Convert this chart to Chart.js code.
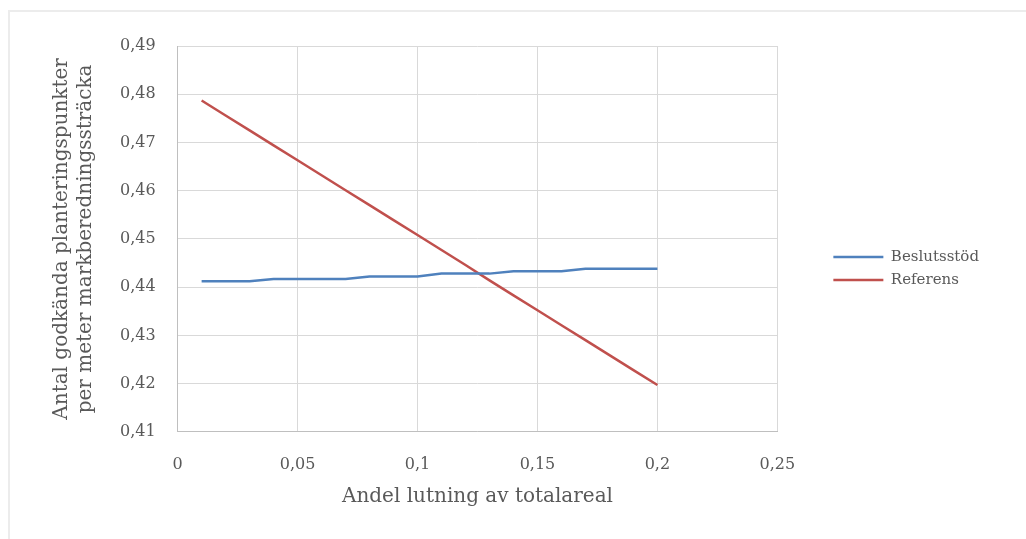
<!DOCTYPE html>
<html>
<head>
<meta charset="utf-8">
<script src="https://cdn.jsdelivr.net/npm/chart.js@4"></script>
<style>
html, body { margin: 0; padding: 0; background: #fff; }
#frame { position: absolute; left: 8px; top: 10px; width: 1030px; height: 540px; border-left: 2px solid #ececec; border-top: 2px solid #ececec; }
#wrap { position: absolute; left: 0; top: 0; width: 1026px; height: 539px; }
</style>
</head>
<body>
<div id="frame"></div>
<div id="wrap"><canvas id="lineChart"></canvas></div>
<script>
// data
const andel = [0.01, 0.02, 0.03, 0.04, 0.05, 0.06, 0.07, 0.08, 0.09, 0.10,
               0.11, 0.12, 0.13, 0.14, 0.15, 0.16, 0.17, 0.18, 0.19, 0.20];
const beslutsstod = [0.4412, 0.4412, 0.4412, 0.4417, 0.4417, 0.4417, 0.4417, 0.4422, 0.4422, 0.4422,
                     0.4428, 0.4428, 0.4428, 0.4433, 0.4433, 0.4433, 0.4438, 0.4438, 0.4438, 0.4438];
const referens = [0.4787, 0.4756, 0.4725, 0.4694, 0.4663, 0.4632, 0.4601, 0.4570, 0.4539, 0.4508,
                  0.4477, 0.4446, 0.4414, 0.4383, 0.4352, 0.4321, 0.4290, 0.4259, 0.4228, 0.4197];
const xTicks = [0, 0.05, 0.1, 0.15, 0.2, 0.25];
const yTicks = [0.41, 0.42, 0.43, 0.44, 0.45, 0.46, 0.47, 0.48, 0.49];

const serif = "'DejaVu Serif', 'Liberation Serif', serif";
const grey = '#595959';
const fmt = v => String(Math.round(v * 100) / 100).replace('.', ',');
const pts = ys => andel.map((x, i) => ({ x: x, y: ys[i] }));

// push the legend away from the plot, like the Excel original
const legendShift = {
id: 'legendShift',
afterLayout(chart) {
chart.legend.left += 48;
chart.legend.right += 48;
chart.legend.top -= 9;
chart.legend.bottom -= 9;
}
};

const ctx = document.getElementById('lineChart').getContext('2d');
new Chart(ctx, {
type: 'line',
data: {
datasets: [{
label: 'Beslutsstöd',
data: pts(beslutsstod),
borderColor: '#4F81BD',
backgroundColor: '#4F81BD',
borderWidth: 2.5,
pointRadius: 0,
tension: 0
}, {
label: 'Referens',
data: pts(referens),
borderColor: '#C0504D',
backgroundColor: '#C0504D',
borderWidth: 2.5,
pointRadius: 0,
tension: 0
}]
},
options: {
responsive: true,
maintainAspectRatio: false,
animation: false,
layout: { padding: { left: 50, right: 85, top: 46, bottom: 30 } },
scales: {
x: {
type: 'linear',
min: 0,
max: 0.25,
afterBuildTicks: s => { s.ticks = xTicks.map(v => ({ value: v })); },
grid: { color: '#d9d9d9', drawTicks: false },
border: { color: '#bfbfbf' },
ticks: { color: grey, font: { family: serif, size: 16 }, padding: 23, callback: fmt },
title: { display: true, text: 'Andel lutning av totalareal', color: grey, font: { family: serif, size: 20 }, padding: { top: -12, bottom: 0 } }
},
y: {
min: 0.41,
max: 0.49,
afterBuildTicks: s => { s.ticks = yTicks.map(v => ({ value: v })); },
grid: { color: '#d9d9d9', drawTicks: false },
border: { color: '#bfbfbf' },
ticks: { color: grey, font: { family: serif, size: 16 }, padding: 22, callback: fmt },
title: { display: true, text: ['Antal godkända planteringspunkter', 'per meter markberedningssträcka'], color: grey, font: { family: serif, size: 20, lineHeight: 1.2 }, padding: { top: 0, bottom: 0 } }
}
},
plugins: {
legend: {
position: 'right',
labels: {
usePointStyle: true,
pointStyle: 'line',
pointStyleWidth: 50,
boxHeight: 2,
padding: 8,
color: grey,
font: { family: serif, size: 15 }
}
},
tooltip: { enabled: false }
}
},
plugins: [legendShift]
});
</script>
</body>
</html>
